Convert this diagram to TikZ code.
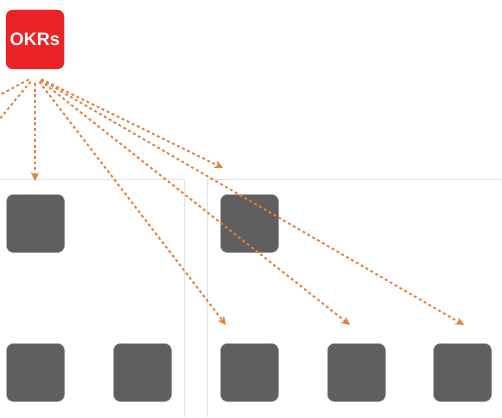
\documentclass[tikz,border=0pt]{standalone}
\usepackage{fontspec}
\setmainfont{Liberation Sans}
\usetikzlibrary{calc,arrows.meta,positioning}
\definecolor{cOKRsRed}{HTML}{EC2224}
\definecolor{cOKRsEdge}{HTML}{CF1B1B}
\definecolor{cBoxGray}{HTML}{5F5F5F}
\definecolor{cBoxEdge}{HTML}{9A9A9A}
\definecolor{cFanOrange}{HTML}{E67F37}
\definecolor{cPanelLine}{HTML}{E2E2E2}

\begin{document}
\begin{tikzpicture}[x=1pt,y=-1pt,
    okrsbox/.style={draw=cOKRsEdge,fill=cOKRsRed,rounded corners=7pt,
        minimum width=58pt,minimum height=59pt,inner sep=0pt,
        text=white,font=\fontsize{18}{18}\selectfont\bfseries},
    graybox/.style={draw=cBoxEdge,line width=0.4pt,fill=cBoxGray,
        rounded corners=7pt,minimum size=58pt,inner sep=0pt},
    fanarrow/.style={draw=cFanOrange,line width=1.8pt,
        dash pattern=on 2.8pt off 2.8pt,shorten <=7pt,
        -{Stealth[length=8.5pt,width=8pt,inset=2.5pt]}},
    panelline/.style={draw=cPanelLine,line width=0.9pt}]
       \useasboundingbox (0,0) rectangle (502,417);
       \clip (0,0) rectangle (502,417);

       %兩個面板的邊線
       \draw[panelline] (0,179) -- (184,179) -- (184,417);
       \draw[panelline] (502,179) -- (207,179) -- (207,417);

       %目標方塊
       \node[okrsbox] (nOKRs) at (35,39.5) {OKRs};

       %灰色方塊
       \foreach \n/\x/\y in
       {nBoxUL/35.5/223.5,
           nBoxUR/249.5/223.5,
           nBoxA/35.5/372.5,
           nBoxB/142.5/372.5,
           nBoxC/249.5/372.5,
           nBoxD/356.5/372.5,
           nBoxE/462.5/372.5
        }
        {
            \node[graybox] (\n) at (\x,\y) {};
        };

       %箭頭的終點
       \coordinate (cFan) at ($(nOKRs.south)+(0,7)$);
       \coordinate (cEndW) at (-40,116);
       \coordinate (cEndWW) at (-30,155);
       \coordinate (cEndDown) at (35,181);
       \coordinate (cEndMid) at (223,168);
       \coordinate (cEndC) at (226,325);
       \coordinate (cEndD) at (350,325);
       \coordinate (cEndE) at (464,325);

       %畫出虛線箭頭
       \foreach \e in {cEndW,cEndWW,cEndDown,cEndMid,cEndC,cEndD,cEndE}
       {
            \draw[fanarrow] (cFan) -- (\e);
       };
\end{tikzpicture}
\end{document}
